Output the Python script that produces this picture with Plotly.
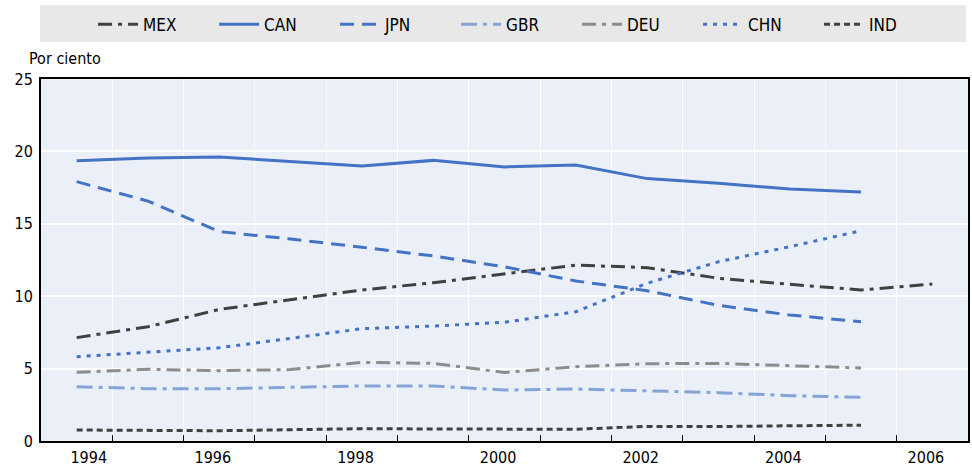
import plotly.graph_objects as go

years = [1994, 1995, 1996, 1997, 1998, 1999, 2000, 2001, 2002, 2003, 2004, 2005, 2006]

mex = [7.14, 7.89, 9.09, 9.74, 10.43, 10.93, 11.53, 12.15, 11.97, 11.24, 10.82, 10.43, 10.84]
can = [19.36, 19.54, 19.61, 19.31, 18.99, 19.38, 18.93, 19.06, 18.12, 17.80, 17.40, 17.20, None]
jpn = [17.91, 16.57, 14.46, 13.95, 13.38, 12.78, 12.03, 11.05, 10.38, 9.37, 8.70, 8.24, None]
gbr = [3.75, 3.61, 3.61, 3.71, 3.80, 3.80, 3.52, 3.59, 3.47, 3.34, 3.13, 3.02, None]
deu = [4.74, 4.95, 4.86, 4.93, 5.43, 5.36, 4.73, 5.13, 5.34, 5.36, 5.20, 5.04, None]
chn = [5.82, 6.12, 6.44, 7.09, 7.76, 7.94, 8.20, 8.93, 10.89, 12.38, 13.42, 14.52, None]
ind = [0.76, 0.71, 0.71, 0.78, 0.85, 0.83, 0.83, 0.81, 1.01, 1.00, 1.05, 1.09, None]

x_labels = ["1994", "1996", "1998", "2000", "2002", "2004", "2006"]
x_label_years = [1994, 1996, 1998, 2000, 2002, 2004, 2006]
y_ticks = [0, 5, 10, 15, 20, 25]

FONT = "DejaVu Sans Condensed, Liberation Sans Narrow, Arial Narrow, sans-serif"
BLUE = "#4472c4"
LBLUE = "#86a3d8"
DARK = "#404040"
GREY = "#8c8c8c"

series = [
    ("MEX", mex, DARK, "14px,6px,4px,6px"),
    ("CAN", can, BLUE, "solid"),
    ("JPN", jpn, BLUE, "14px,8px"),
    ("GBR", gbr, LBLUE, "16px,6px,4px,6px"),
    ("DEU", deu, GREY, "14px,6px,4px,6px"),
    ("CHN", chn, BLUE, "4px,6px"),
    ("IND", ind, DARK, "6px,4px"),
]

fig = go.Figure()
for name, vals, color, dash in series:
    fig.add_trace(go.Scatter(
        x=years, y=vals, name=name, mode="lines",
        line=dict(color=color, width=3, dash=dash),
        connectgaps=False,
    ))

label_pos = [y + (0.17 if y == 1994 else -0.09) for y in x_label_years]
minor_vals = [y + 0.5 for y in years[:-1]]

fig.update_layout(
    width=972, height=467,
    margin=dict(l=41, r=4, t=79, b=26),
    paper_bgcolor="white",
    plot_bgcolor="#ebf0f8",
    font=dict(family=FONT, size=16, color="#000"),
    showlegend=True,
    legend=dict(
        orientation="h", x=0.513, xanchor="center", y=1.15, yanchor="middle",
        bgcolor="rgba(0,0,0,0)", font=dict(family=FONT, size=17, color="#000"),
        entrywidth=66, entrywidthmode="pixels", itemwidth=40,
        traceorder="normal",
    ),
    xaxis=dict(
        range=[1993.5, 2006.5], automargin=False,
        tickmode="array", tickvals=label_pos, ticktext=x_labels,
        ticks="", showgrid=False, zeroline=False,
        showline=True, linecolor="#000", linewidth=2, mirror=True,
        tickfont=dict(family=FONT, size=16, color="#000"),
        ticklabelstandoff=1,
        minor=dict(tickmode="array", tickvals=minor_vals, ticks="inside", ticklen=6,
                   tickcolor="#000", tickwidth=1, showgrid=True, gridcolor="white", gridwidth=1),
    ),
    yaxis=dict(
        range=[0, 25], tickmode="array", tickvals=y_ticks, automargin=False,
        ticks="", showgrid=True, gridcolor="white", gridwidth=1.5, zeroline=False,
        showline=True, linecolor="#000", linewidth=2, mirror=True,
        tickfont=dict(family=FONT, size=16, color="#000"),
        ticklabelstandoff=3,
    ),
    shapes=[dict(
        type="rect", xref="paper", yref="paper",
        x0=-0.001, x1=0.998, y0=1.102, y1=1.204,
        fillcolor="#e8e8e8", line=dict(width=0), layer="below",
    )],
    annotations=[dict(
        text="Por ciento", xref="paper", yref="paper",
        x=0.0669, y=1.058, xanchor="right", yanchor="middle",
        showarrow=False, font=dict(family=FONT, size=16, color="#000"),
    )],
)

fig.write_html("out.html", config={"displayModeBar": False},
               post_script="document.body.style.margin='0';document.body.style.overflow='hidden';")
